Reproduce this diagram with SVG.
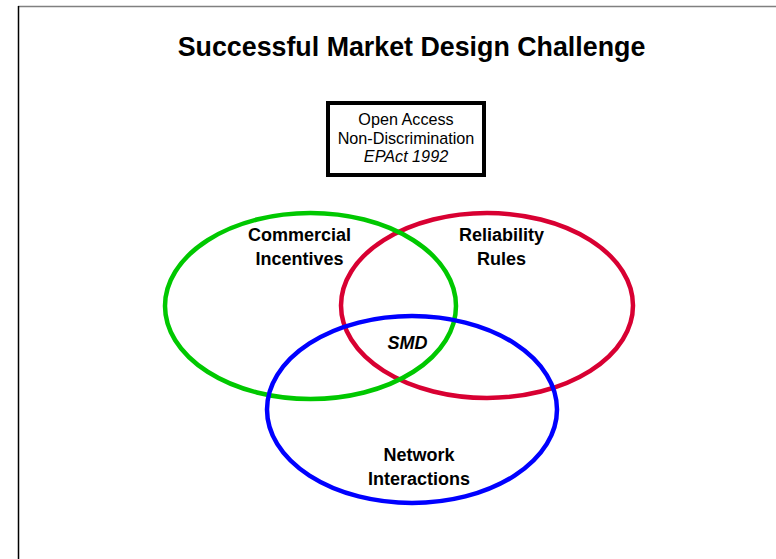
<svg xmlns="http://www.w3.org/2000/svg" width="776" height="559" viewBox="0 0 776 559">
<style>
.lbl{font-family:"Liberation Sans",Arial,sans-serif;font-weight:bold;font-size:18px;fill:#000;text-anchor:middle}
.box{font-family:"Liberation Sans",Arial,sans-serif;font-size:16.2px;fill:#000;text-anchor:middle}
.ring{fill:none;stroke-width:4.5}
</style>
<rect width="776" height="559" fill="#fff"/>
<g id="frame">
<line x1="18" y1="6.5" x2="776" y2="6.5" stroke="#808080" stroke-width="1.5"/>
<line x1="18.5" y1="6" x2="18.5" y2="559" stroke="#000" stroke-width="1.5"/>
</g>
<text x="411.5" y="56" font-family="'Liberation Sans',Arial,sans-serif" font-weight="bold" font-size="26.8" text-anchor="middle">Successful Market Design Challenge</text>
<g id="open-access">
<rect x="328" y="103" width="156" height="72" fill="#fff" stroke="#000" stroke-width="4"/>
<text class="box" x="406" y="125">Open Access</text>
<text class="box" x="406" y="144">Non-Discrimination</text>
<text class="box" x="406" y="162" font-style="italic">EPAct 1992</text>
</g>
<g id="reliability">
<ellipse class="ring" cx="487" cy="305.5" rx="146" ry="92.5" stroke="#D80032"/>
</g>
<g id="commercial">
<ellipse class="ring" cx="310.5" cy="306" rx="145.5" ry="93" stroke="#00C800"/>
</g>
<g id="network">
<ellipse class="ring" cx="412" cy="409.5" rx="145" ry="93.5" stroke="#0000FF"/>
</g>
<g id="labels">
<text class="lbl" x="299.5" y="241">Commercial</text>
<text class="lbl" x="299.5" y="265">Incentives</text>
<text class="lbl" x="501.5" y="241">Reliability</text>
<text class="lbl" x="501.5" y="265">Rules</text>
<text class="lbl" x="407.5" y="349" font-style="italic">SMD</text>
<text class="lbl" x="419" y="461">Network</text>
<text class="lbl" x="419" y="485">Interactions</text>
</g>
</svg>
